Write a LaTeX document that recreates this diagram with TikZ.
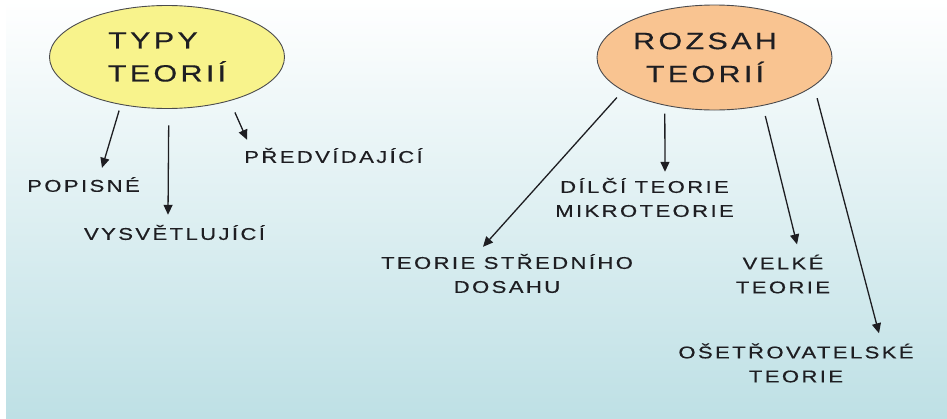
\documentclass[tikz,border=0pt]{standalone}
\usepackage{fontspec}
\setmainfont{Liberation Sans}[FakeStretch=1.3, LetterSpace=14, FakeBold=0.4]
\usetikzlibrary{arrows.meta, shapes.geometric, calc}
\definecolor{bgblue}{RGB}{190,224,229}
\definecolor{bgmid}{RGB}{225,240,243}
\definecolor{typyfill}{RGB}{248,243,140}
\definecolor{rozsahfill}{RGB}{249,196,145}
\definecolor{inkdark}{RGB}{30,30,34}

\begin{document}
\begin{tikzpicture}[x=1pt, y=-1pt,
    bubble/.style={ellipse, draw=inkdark!80, line width=0.9pt, inner sep=0pt,
      minimum width=235pt, font=\fontsize{23.5}{33}\selectfont, text=inkdark, align=center},
    item/.style={inner sep=0pt, align=center, text=inkdark,
      font=\fontsize{17}{24}\selectfont},
    arr/.style={draw=inkdark, line width=1.3pt, -{Triangle[length=10pt, width=9pt]}}]
    \useasboundingbox (0,0) rectangle (947,418);

    % --- Background ---
    \shade[top color=white, middle color=bgmid, bottom color=bgblue] (6,0) rectangle (947,418);

    % --- Ovals ---
    \node[bubble, fill=typyfill, minimum height=103pt] (typy) at (167,57)
      {TYPY\hspace*{28pt}\\TEORIÍ};
    \node[bubble, fill=rozsahfill, minimum height=105pt] (rozsah) at (714.5,57.5)
      {ROZSAH\hspace*{19pt}\\TEORIÍ\hspace*{19pt}};

    % --- Left labels ---
    \node[item] (popisne) at (83.5,184.5) {POPISNÉ};
    \node[item] (vysvet) at (174.5,232.5) {VYSVĚTLUJÍCÍ};
    \node[item] (predvid) at (333.5,155.5) {PŘEDVÍDAJÍCÍ};

    % --- Right labels ---
    \node[item] (dilci) at (644.5,197.5) {DÍLČÍ TEORIE\\MIKROTEORIE};
    \node[item] (stredni) at (507,273.5) {TEORIE STŘEDNÍHO\\DOSAHU};
    \node[item] (velke) at (783,274) {VELKÉ\\TEORIE};
    \node[item] (osetr) at (796,363) {OŠETŘOVATELSKÉ\\TEORIE};

    % --- Arrows from TYPY ---
    \draw[arr, shorten <=6pt] (typy.226) -- ([xshift=18.5pt, yshift=9pt]popisne.north);
    \draw[arr, shorten <=16.5pt] (typy.272) -- ([xshift=-6.5pt, yshift=10pt]vysvet.north);
    \draw[arr, shorten <=12.6pt] (typy.325) -- ([xshift=3pt, yshift=8pt]predvid.north west);

    % --- Arrows from ROZSAH ---
    \draw[arr, shorten <=9pt] (rozsah.200) -- ([xshift=-24pt, yshift=7pt]stredni.north);
    \draw[arr, shorten <=8pt] (rozsah.224) -- ([xshift=20.5pt, yshift=6pt]dilci.north);
    \draw[arr, shorten <=10.5pt] (rozsah.315) -- ([xshift=14pt, yshift=10pt]velke.north);
    \draw[arr, shorten <=12.6pt] (rozsah.344) -- ([xshift=83pt, yshift=10pt]osetr.north);
  \end{tikzpicture}
\end{document}
